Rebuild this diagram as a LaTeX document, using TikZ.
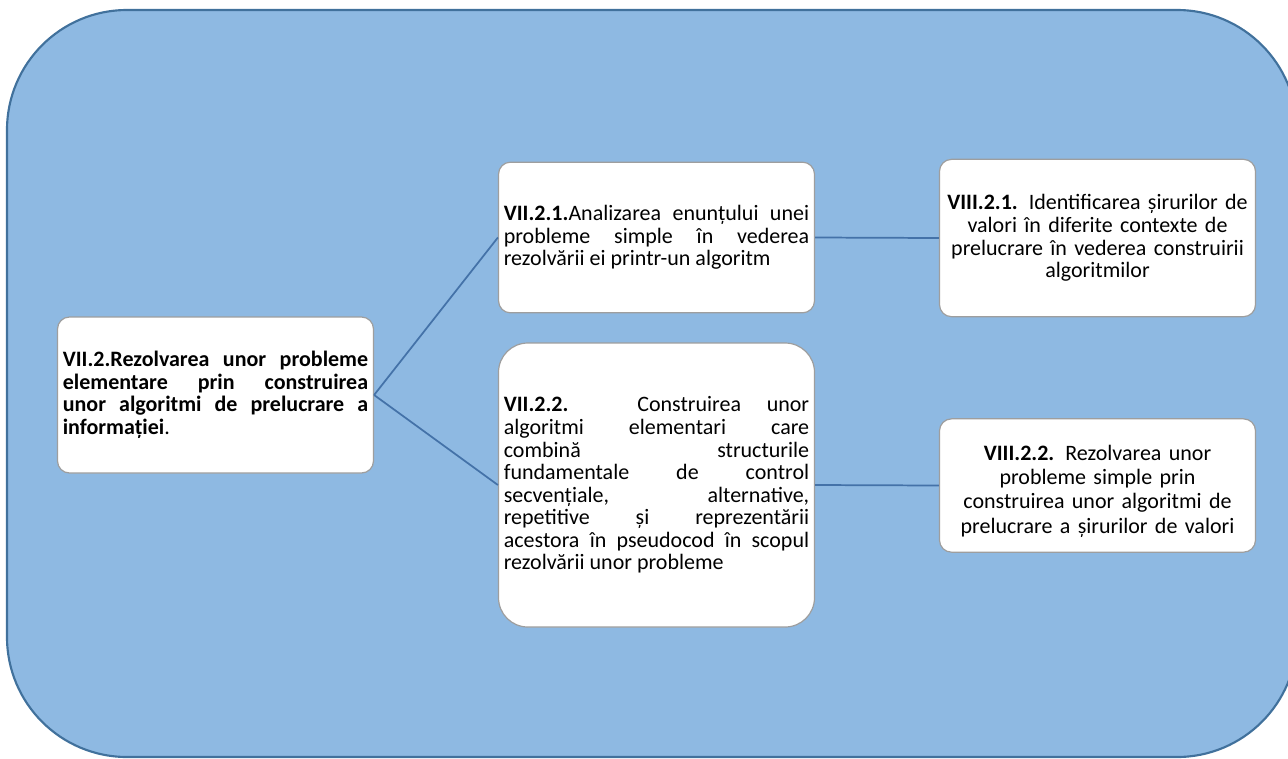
\documentclass[tikz,border=0pt]{standalone}
\usepackage{fontspec}
\setmainfont{Carlito}
\definecolor{panelblue}{HTML}{8EB9E2}
\definecolor{paneledge}{HTML}{41719C}
\definecolor{linkblue}{HTML}{4472A8}
\hyphenpenalty=10000
\exhyphenpenalty=10000

\begin{document}
\begin{tikzpicture}[x=0.75pt, y=-0.75pt,
    main/.style = {draw=black!38, fill=white, line width=0.9pt, rounded corners=9pt,
      text width=229pt, inner xsep=4pt, inner ysep=0pt,
      font=\fontsize{16.5}{16.9}\selectfont},
    link/.style = {draw=linkblue, line width=1.3pt}]
  \useasboundingbox (0,0) rectangle (1288,758);
  \clip (0,0) rectangle (1288,758);
  % background panel
  \draw[fill=panelblue, draw=paneledge, line width=1.6pt, rounded corners=90pt]
    (7,10) rectangle (1297,757);
  % competences
  \node[main, align=justify, minimum height=117pt] (1) at (215.5,395)
    {\textbf{VII.2.Rezolvarea unor probleme\linebreak elementare prin construirea\linebreak unor algoritmi de prelucrare a\linebreak informației}.};
  \node[main, align=justify, minimum height=113pt] (2) at (656.5,237.5)
    {\textbf{VII.2.1.}Analizarea enunțului unei\linebreak probleme simple în vederea\linebreak rezolvării ei printr-un algoritm};
  \node[main, align=justify, minimum height=213pt, rounded corners=22pt] (3) at (656.5,485)
    {\textbf{VII.2.2.} Construirea unor\linebreak algoritmi elementari care\linebreak combină structurile\linebreak fundamentale de control\linebreak secvențiale, alternative,\linebreak repetitive și reprezentării\linebreak acestora în pseudocod în scopul\linebreak rezolvării unor probleme};
  \node[main, align=center, minimum height=118pt] (4) at (1097.5,238)
    {\textbf{VIII.2.1.} Identificarea șirurilor de\\ valori în diferite contexte de\\ prelucrare în vederea construirii\\ algoritmilor};
  \node[main, align=center, minimum height=100pt, font=\fontsize{16.5}{18.2}\selectfont] (5) at (1097.5,485.5)
    {\rule{0pt}{20pt}\textbf{VIII.2.2.} Rezolvarea unor\\ probleme simple prin\\ construirea unor algoritmi de\\ prelucrare a șirurilor de valori};
  % links
  \draw[link] (1.east) -- (2.west);
  \draw[link] (1.east) -- (3.west);
  \draw[link] (2.east) -- (4.west);
  \draw[link] (3.east) -- (5.west);
\end{tikzpicture}
\end{document}
